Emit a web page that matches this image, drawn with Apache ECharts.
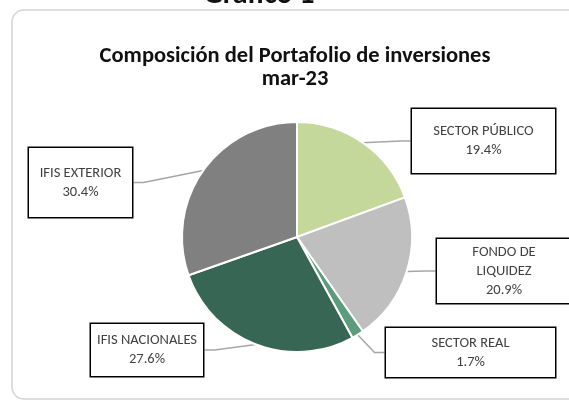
<!DOCTYPE html>
<html>
<head>
<meta charset="utf-8">
<script src="https://cdn.jsdelivr.net/npm/echarts@6/dist/echarts.min.js"></script>
<style>
  html, body { margin: 0; padding: 0; background: #fff; }
  #main { width: 569px; height: 403px; }
</style>
</head>
<body>
<div id="main"></div>
<script>
// datos del gráfico
var categorias = ["SECTOR PÚBLICO", "FONDO DE\nLIQUIDEZ", "SECTOR REAL", "IFIS NACIONALES", "IFIS EXTERIOR"];
var valores = [19.4, 20.9, 1.7, 27.6, 30.4];
var colores = ["#c4d89c", "#bfbfbf", "#5a9c7d", "#376654", "#808080"];

// posición y tamaño de las cajas de etiqueta
var cajas = [
  { x: 412, y: 109, w: 143, h: 64, lines: 2 },
  { x: 437, y: 239, w: 134, h: 64, lines: 3 },
  { x: 386, y: 328, w: 169, h: 49, lines: 2 },
  { x: 91, y: 324, w: 112, h: 52, lines: 2 },
  { x: 29, y: 148, w: 103, h: 69, lines: 2 }
];
var LH = 19;

var chartDom = document.getElementById("main");
var myChart = echarts.init(chartDom);

var datos = categorias.map(function (c, i) {
  var b = cajas[i];
  var pv = (b.h - b.lines * LH) / 2;
  return {
    name: c,
    value: valores[i],
    itemStyle: { color: colores[i] },
    label: { width: b.w - 4, padding: [pv, 2, pv, 2] }
  };
});

var option = {
  animation: false,
  title: {
    text: "Composición del Portafolio de inversiones\nmar-23",
    left: 290,
    top: 40,
    textAlign: "center",
    textStyle: {
      fontFamily: "Carlito, 'Noto Sans', sans-serif",
      fontSize: 22.5,
      fontWeight: "bold",
      lineHeight: 23,
      color: "#111"
    }
  },
  graphic: [
    {
      type: "rect",
      z: -1,
      shape: { x: 12, y: 10, width: 580, height: 389, r: 12 },
      style: { fill: "none", stroke: "#d4d4d4", lineWidth: 1.5 }
    },
    {
      type: "text",
      x: 259,
      y: 10,
      style: {
        text: "Gráfico 1",
        align: "center",
        verticalAlign: "bottom",
        fontFamily: "Carlito, 'Noto Sans', sans-serif",
        fontSize: 30,
        fontWeight: "bold",
        fill: "#111"
      }
    }
  ],
  series: [
    {
      type: "pie",
      center: [297, 237],
      radius: 115,
      startAngle: 90,
      clockwise: true,
      silent: true,
      itemStyle: { borderColor: "#fff", borderWidth: 2 },
      label: {
        show: true,
        position: "outside",
        formatter: function (p) {
          return p.name + "\n" + p.value.toFixed(1) + "%";
        },
        fontFamily: "Carlito, 'Noto Sans', sans-serif",
        fontSize: 14.5,
        lineHeight: LH,
        color: "#404040",
        align: "center",
        backgroundColor: "#fff",
        borderColor: "#000",
        borderWidth: 1.5
      },
      labelLine: {
        show: true,
        length: 10,
        length2: 10,
        lineStyle: { color: "#a6a6a6", width: 1.5 }
      },
      labelLayout: function (params) {
        var b = cajas[params.dataIndex];
        return { x: b.x + b.w / 2, y: b.y, align: "center", verticalAlign: "top" };
      },
      data: datos
    }
  ]
};

option && myChart.setOption(option);
</script>
</body>
</html>
